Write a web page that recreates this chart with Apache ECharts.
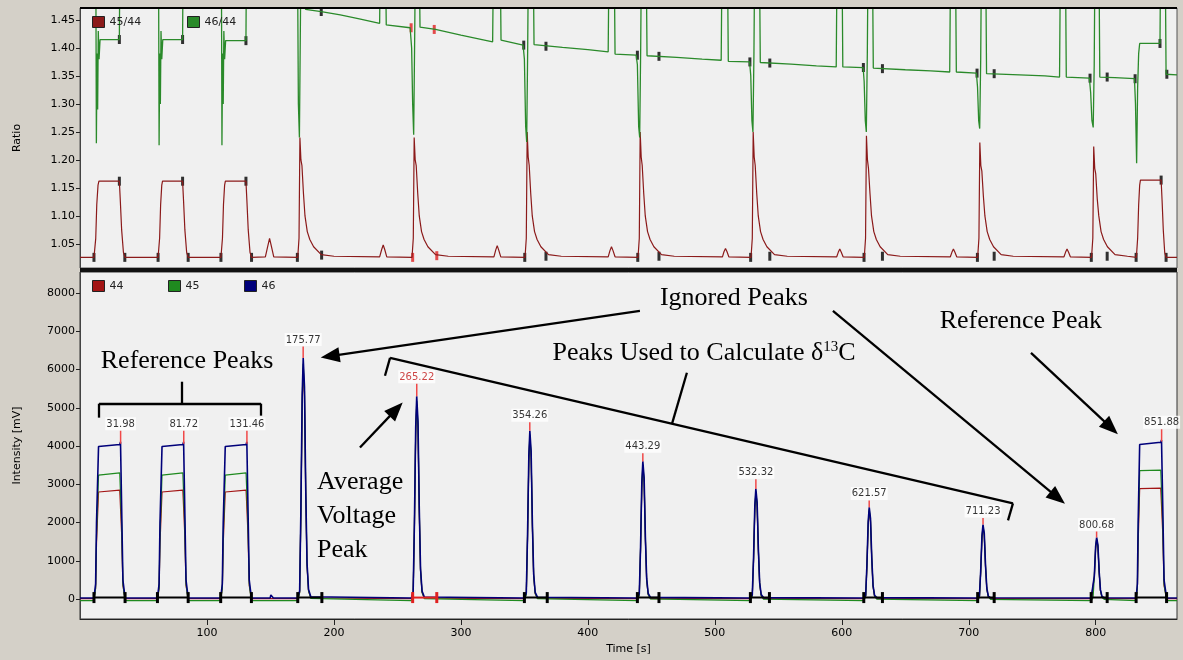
<!DOCTYPE html>
<html>
<head>
<meta charset="utf-8">
<script src="https://cdn.jsdelivr.net/npm/echarts@6/dist/echarts.min.js"></script>
<style>
html, body { margin: 0; padding: 0; background: #d4d0c8; }
#chart { width: 1183px; height: 660px; }
</style>
</head>
<body>
<div id="chart"></div>
<script>
// ---------- upper panel: isotope ratios, [time s, ratio] ----------
const ratio45 = [
  [0, 1.026], [11, 1.026], [12.4, 1.06], [13.2, 1.12], [14.2, 1.155], [14.9, 1.162], [31, 1.162], [31.8, 1.125], [32.8, 1.075], [34.2, 1.035], [35.4, 1.026],
  [61.5, 1.026], [62.7, 1.06], [63.5, 1.12], [64.4, 1.155], [65, 1.162], [80.8, 1.162], [81.6, 1.125], [82.6, 1.075], [84, 1.035], [85.2, 1.026],
  [111, 1.026], [112.2, 1.06], [113, 1.12], [113.9, 1.155], [114.5, 1.162], [130.7, 1.162], [131.5, 1.125], [132.5, 1.075], [133.9, 1.035], [135.1, 1.026],
  [146, 1.027], [147.8, 1.045], [149.3, 1.06], [150.8, 1.045], [152.6, 1.027],
  [171.5, 1.026], [172.5, 1.06], [173.2, 1.24], [174, 1.20], [174.8, 1.19], [176, 1.14], [177.2, 1.10], [179, 1.072], [181, 1.058], [184, 1.045], [190, 1.031], [200, 1.028],
  [236, 1.027], [237.6, 1.04], [238.8, 1.048], [240, 1.04], [241.6, 1.027],
  [261.5, 1.026], [262.5, 1.06], [263.2, 1.24], [264, 1.20], [264.8, 1.19], [266, 1.14], [267.2, 1.10], [269, 1.072], [271, 1.058], [274, 1.045], [280, 1.031], [290, 1.028],
  [326, 1.027], [327.4, 1.039], [328.6, 1.047], [329.8, 1.039], [331.4, 1.027],
  [350.5, 1.026], [351.5, 1.06], [352.2, 1.25], [353, 1.205], [353.8, 1.19], [355, 1.14], [356.2, 1.10], [358, 1.072], [360, 1.058], [363, 1.045], [369, 1.031], [379, 1.028],
  [416, 1.027], [417.4, 1.038], [418.6, 1.045], [419.8, 1.038], [421.4, 1.027],
  [439.5, 1.026], [440.5, 1.06], [441.2, 1.25], [442, 1.205], [442.8, 1.19], [444, 1.14], [445.2, 1.10], [447, 1.072], [449, 1.058], [452, 1.045], [458, 1.031], [468, 1.028],
  [506, 1.027], [507.2, 1.036], [508.4, 1.042], [509.6, 1.036], [511, 1.027],
  [528.5, 1.026], [529.5, 1.06], [530.2, 1.25], [531, 1.205], [531.8, 1.19], [533, 1.14], [534.2, 1.10], [536, 1.072], [538, 1.058], [541, 1.045], [547, 1.031], [557, 1.028],
  [596, 1.027], [597.2, 1.035], [598.4, 1.041], [599.6, 1.035], [601, 1.027],
  [617.7, 1.026], [618.7, 1.06], [619.4, 1.243], [620.2, 1.20], [621, 1.185], [622.2, 1.14], [623.4, 1.10], [625.2, 1.072], [627.2, 1.058], [630.2, 1.045], [636.2, 1.031], [646, 1.028],
  [685.5, 1.027], [686.7, 1.035], [687.9, 1.041], [689.1, 1.035], [690.5, 1.027],
  [707, 1.026], [708, 1.06], [708.7, 1.231], [709.5, 1.19], [710.3, 1.18], [711.5, 1.135], [712.7, 1.10], [714.5, 1.072], [716.5, 1.058], [719.5, 1.045], [725.5, 1.031], [735, 1.028],
  [775, 1.027], [776.2, 1.035], [777.4, 1.041], [778.6, 1.035], [780, 1.027],
  [796.7, 1.026], [797.7, 1.06], [798.4, 1.224], [799.2, 1.185], [800, 1.175], [801.2, 1.13], [802.4, 1.10], [804.2, 1.072], [806.2, 1.058], [809.2, 1.045], [815.2, 1.031], [825, 1.028],
  [832, 1.026], [833, 1.06], [833.8, 1.12], [834.6, 1.155], [835.2, 1.164], [851.5, 1.164], [852.3, 1.125], [853.2, 1.075], [854.3, 1.035], [855.4, 1.026], [864, 1.026]
];

// values above 1.47 run off the top of the panel (clipped)
const ratio46 = [
  [0, 1.6], [12.4, 1.6], [12.9, 1.23], [13.4, 1.39], [13.9, 1.29], [14.4, 1.43], [15, 1.38], [15.8, 1.415], [31, 1.415], [31.5, 1.6],
  [61.8, 1.6], [62.3, 1.226], [62.8, 1.39], [63.3, 1.30], [63.8, 1.43], [64.4, 1.38], [65.2, 1.415], [80.8, 1.415], [81.3, 1.6],
  [111.3, 1.6], [111.8, 1.226], [112.3, 1.39], [112.8, 1.30], [113.3, 1.43], [113.9, 1.38], [114.7, 1.413], [130.7, 1.413], [131.2, 1.6],
  [171.2, 1.6], [172, 1.30], [172.8, 1.24], [173.5, 1.42], [174.2, 1.6], [176.8, 1.6], [177.6, 1.469], [190, 1.465], [205, 1.459], [220, 1.452], [236, 1.444],
  [236.6, 1.6], [240.4, 1.6], [241.2, 1.441], [260, 1.436],
  [261.2, 1.40], [262, 1.30], [262.8, 1.245], [263.6, 1.42], [264.3, 1.6], [267, 1.6], [267.8, 1.437], [280, 1.433], [300, 1.423], [325, 1.411],
  [325.8, 1.6], [330.8, 1.6], [331.6, 1.414], [349, 1.405],
  [350, 1.38], [351, 1.26], [351.8, 1.232], [352.6, 1.40], [353.3, 1.6], [356.8, 1.6], [357.6, 1.406], [380, 1.401], [400, 1.397], [416, 1.393],
  [416.8, 1.6], [420.6, 1.6], [421.4, 1.389], [438, 1.387],
  [439, 1.37], [440, 1.26], [440.8, 1.24], [441.6, 1.40], [442.3, 1.6], [445.8, 1.6], [446.6, 1.386], [470, 1.383], [490, 1.38], [505, 1.378],
  [505.8, 1.6], [509.8, 1.6], [510.6, 1.376], [527.4, 1.375],
  [528.3, 1.35], [529.2, 1.27], [530, 1.25], [530.8, 1.39], [531.5, 1.6], [535, 1.6], [535.8, 1.374], [560, 1.371], [580, 1.368], [595.6, 1.366],
  [596.4, 1.6], [600, 1.6], [600.8, 1.366], [616.8, 1.365],
  [617.6, 1.34], [618.5, 1.27], [619.3, 1.25], [620.1, 1.39], [620.8, 1.6], [624, 1.6], [624.8, 1.364], [650, 1.361], [670, 1.359], [685, 1.357],
  [685.8, 1.6], [689.4, 1.6], [690.2, 1.357], [706, 1.355],
  [706.9, 1.33], [707.8, 1.27], [708.6, 1.256], [709.4, 1.38], [710.1, 1.6], [713.2, 1.6], [714, 1.354], [740, 1.352], [760, 1.35], [771.5, 1.348],
  [772.3, 1.6], [776, 1.6], [776.8, 1.348], [795, 1.346],
  [796, 1.32], [797, 1.27], [798, 1.258], [798.8, 1.37], [799.5, 1.6], [802.4, 1.6], [803.2, 1.348], [815, 1.347], [830.5, 1.345],
  [831.3, 1.30], [832.2, 1.194], [833, 1.33], [833.8, 1.39], [834.6, 1.408], [850.6, 1.408], [851.2, 1.6], [854.6, 1.6], [855.4, 1.353], [864, 1.352]
];

// peak start / end markers on the ratio traces
const marks45 = [[11, 1.026], [31, 1.162], [35.3, 1.026], [61.5, 1.026], [80.8, 1.162], [85.2, 1.026], [111, 1.026], [130.7, 1.162], [135.1, 1.026],
  [171.2, 1.026], [190.3, 1.030], [350.3, 1.026], [367, 1.028], [439.3, 1.026], [456, 1.028], [528.2, 1.026], [543.3, 1.028], [617.5, 1.026], [632, 1.028],
  [706.8, 1.026], [720, 1.028], [796.5, 1.026], [809, 1.028], [831.8, 1.026], [851.5, 1.164], [855.4, 1.026]];
const marks46 = [[31, 1.415], [80.8, 1.415], [130.7, 1.413], [190, 1.465], [349.5, 1.405], [367, 1.403], [439, 1.387], [456, 1.385],
  [527.6, 1.375], [543.3, 1.373], [617, 1.365], [632, 1.363], [706.5, 1.355], [720, 1.354], [795.5, 1.346], [809, 1.348],
  [831, 1.345], [850.6, 1.408], [856, 1.353]];
const avgMarks45 = [[262, 1.026], [281, 1.029]];
const avgMarks46 = [[260.8, 1.436], [279, 1.433]];

// ---------- lower panel: intensities [mV] on a shared time base ----------
const times = [0,
  11, 12.3, 13, 14.6, 15.3, 31.3, 31.9, 32.8, 33.8, 35.5,
  61, 62.3, 63, 64.6, 65.3, 81, 81.6, 82.5, 83.5, 85.2,
  110.8, 112.1, 112.8, 114.4, 115.1, 130.8, 131.4, 132.3, 133.3, 135,
  149.8, 150.3, 151.8, 152.3,
  171.5, 173, 174, 175, 175.8, 176.8, 177.8, 178.8, 180, 181.8,
  261, 262.4, 263.4, 264.4, 265.2, 266.2, 267.2, 268.2, 269.4, 271.2,
  350, 351.5, 352.5, 353.5, 354.3, 355.3, 356.3, 357.3, 358.5, 360.3,
  439, 440.5, 441.5, 442.5, 443.3, 444.3, 445.3, 446.3, 447.5, 449.3,
  528, 529.5, 530.5, 531.5, 532.3, 533.3, 534.3, 535.3, 536.5, 538.3,
  617.3, 618.8, 619.8, 620.8, 621.6, 622.6, 623.6, 624.6, 625.8, 627.6,
  707, 708.4, 709.4, 710.4, 711.2, 712.2, 713.2, 714.2, 715.4, 717.2,
  796.4, 797.9, 798.9, 799.9, 800.7, 801.7, 802.7, 803.7, 804.9, 806.7,
  831.8, 832.8, 833.4, 834.6, 835.2, 851.2, 851.8, 852.8, 853.8, 855.8,
  864];
const mass44 = [10,
  10, 280, 1450, 2800, 2810, 2850, 2880, 1700, 350, 10,
  10, 280, 1450, 2800, 2810, 2850, 2880, 1700, 350, 10,
  10, 280, 1450, 2800, 2810, 2850, 2880, 1700, 350, 10,
  10, 10, 10, 10,
  10, 180, 2250, 5100, 6050, 5300, 2700, 880, 210, 30,
  10, 160, 1880, 4300, 5100, 4450, 2280, 740, 170, 25,
  10, 130, 1600, 3580, 4230, 3700, 1880, 610, 140, 20,
  10, 110, 1290, 2920, 3460, 3040, 1540, 500, 115, 15,
  10, 90, 1020, 2340, 2770, 2420, 1240, 400, 90, 15,
  10, 80, 860, 1950, 2310, 2020, 1030, 330, 75, 12,
  10, 65, 700, 1590, 1880, 1650, 840, 265, 60, 12,
  10, 55, 575, 1310, 1550, 1360, 690, 220, 50, 10,
  10, 280, 1450, 2890, 2895, 2900, 2930, 1700, 350, 10,
  10];
const mass45 = [-40,
  -40, 300, 1650, 3240, 3245, 3300, 3330, 1950, 400, -40,
  -40, 300, 1650, 3240, 3245, 3300, 3330, 1950, 400, -40,
  -40, 300, 1650, 3240, 3245, 3300, 3330, 1950, 400, -40,
  -40, -40, -40, -40,
  -40, 170, 2300, 5200, 6150, 5420, 2780, 900, 220, 20,
  -40, 150, 1930, 4380, 5180, 4540, 2340, 760, 180, 15,
  -40, 120, 1640, 3650, 4300, 3780, 1930, 630, 150, 10,
  -40, 100, 1320, 2980, 3520, 3100, 1580, 510, 120, 5,
  -40, 80, 1050, 2390, 2820, 2470, 1270, 410, 95, 0,
  -40, 70, 880, 1990, 2350, 2060, 1050, 340, 80, 0,
  -40, 55, 715, 1620, 1910, 1680, 860, 270, 60, -5,
  -40, 45, 590, 1340, 1580, 1390, 700, 225, 50, -5,
  -40, 300, 1650, 3360, 3365, 3370, 3400, 1950, 400, -40,
  -40];
const mass46 = [30,
  30, 400, 2000, 3990, 3995, 4040, 4110, 2400, 500, 30,
  30, 400, 2000, 3990, 3995, 4040, 4110, 2400, 500, 30,
  30, 400, 2000, 3990, 3995, 4040, 4110, 2400, 500, 30,
  30, 110, 110, 30,
  30, 220, 2400, 5350, 6300, 5550, 2850, 950, 250, 60,
  30, 190, 2000, 4500, 5300, 4650, 2400, 800, 210, 55,
  30, 160, 1700, 3750, 4400, 3870, 1980, 660, 180, 50,
  30, 140, 1370, 3060, 3600, 3170, 1620, 540, 150, 45,
  30, 110, 1090, 2450, 2880, 2530, 1300, 430, 120, 40,
  30, 100, 910, 2040, 2400, 2110, 1080, 360, 100, 40,
  30, 85, 740, 1660, 1950, 1720, 880, 290, 80, 35,
  30, 75, 610, 1370, 1610, 1420, 720, 240, 70, 35,
  30, 400, 2000, 4040, 4050, 4100, 4160, 2400, 500, 30,
  30];

// integration baselines (peak start / end, s)
const peakStart = [11, 61, 110.8, 171.5, 350, 439, 528, 617.3, 707, 796.4, 831.8];
const peakEnd = [35.5, 85.2, 135, 190.5, 368, 456, 543, 632, 720, 809, 855.8];
const avgStart = 262, avgEnd = 281;

// peak apex labels
const peakLabels = ['31.98', '81.72', '131.46', '175.77', '265.22', '354.26', '443.29', '532.32', '621.57', '711.23', '800.68', '851.88'];
const peakTimes = [31.98, 81.72, 131.46, 175.77, 265.22, 354.26, 443.29, 532.32, 621.57, 711.23, 800.68, 851.88];
const peakApex = [4060, 4060, 4060, 6300, 5300, 4400, 3600, 2880, 2400, 1950, 1610, 4120];
const peakTop = [4400, 4400, 4400, 6600, 5630, 4620, 3810, 3135, 2580, 2120, 1765, 4440];
const avgPeak = '265.22';

// annotations, in [time, mV] of the lower panel
const notes = [
  { at: [84.3, 6229], text: 'Reference Peaks' },
  { at: [515, 7871], text: 'Ignored Peaks' },
  { at: [491.5, 6437], text: '{t|Peaks Used to Calculate δ}{s|13}{t|C}' },
  { at: [741, 7271], text: 'Reference Peak' }
];
const sideNote = { at: [186.7, 2171], text: 'Average\nVoltage\nPeak' };
const arrows = [
  [[441, 7532], [197, 6350]],
  [[593, 7532], [770, 2650]],
  [[749, 6437], [812, 4480]],
  [[220.5, 3961], [249, 4960]]
];
const strokes = [
  [[15, 4743], [15, 5108]], [[15, 5108], [142.6, 5108]], [[142.6, 5108], [142.6, 4795]], [[80, 5108], [80, 5682]],
  [[240.2, 5838], [244.2, 6307]], [[244.2, 6307], [734.8, 2502]], [[734.8, 2502], [730.9, 2059]], [[466.3, 4587], [478, 5916]]
];

const SERIF = "'Liberation Serif', 'Times New Roman', serif";
const SANS = "'DejaVu Sans', Tahoma, sans-serif";

const zip = (xs, ys) => xs.map((x, i) => [x, ys[i]]);
const segments = (a, b, y) => a.flatMap((s, i) => [[s, y], [b[i], y], '-']);

const chart = echarts.init(document.getElementById('chart'));

const axisTxt = { color: '#000', fontSize: 11, fontFamily: SANS };
const legendBase = { orient: 'horizontal', padding: 0, itemWidth: 12, itemHeight: 11, icon: 'rect',
  itemStyle: { borderColor: '#222', borderWidth: 1 }, textStyle: { fontSize: 11, color: '#222', fontFamily: SANS } };

chart.setOption({
  animation: false,
  backgroundColor: '#d4d0c8',
  grid: [
    { left: 80, top: 8, width: 1097, height: 260, show: true, backgroundColor: '#f0f0f0', borderColor: '#555', borderWidth: 1 },
    { left: 80, top: 272, width: 1097, height: 348, show: true, backgroundColor: '#f0f0f0', borderColor: '#333', borderWidth: 1 }
  ],
  legend: [
    Object.assign({ left: 92, top: 16, data: ['45/44'] }, legendBase),
    Object.assign({ left: 187, top: 16, data: ['46/44'] }, legendBase),
    Object.assign({ left: 92, top: 280, data: ['44'] }, legendBase),
    Object.assign({ left: 168, top: 280, data: ['45'] }, legendBase),
    Object.assign({ left: 244, top: 280, data: ['46'] }, legendBase)
  ],
  xAxis: [
    { gridIndex: 0, type: 'value', min: 0, max: 864, axisLine: { show: false }, axisTick: { show: false },
      axisLabel: { show: false }, splitLine: { show: false } },
    { gridIndex: 1, type: 'value', min: 0, max: 864, interval: 100,
      axisLine: { onZero: false, lineStyle: { color: '#222' } }, axisTick: { length: 6, lineStyle: { color: '#222' } },
      axisLabel: Object.assign({ margin: 9, showMinLabel: false, showMaxLabel: false }, axisTxt),
      splitLine: { show: false },
      name: 'Time [s]', nameLocation: 'middle', nameGap: 25, nameTextStyle: { fontSize: 11, color: '#000', fontFamily: SANS } }
  ],
  yAxis: [
    { gridIndex: 0, type: 'value', min: 1.007, max: 1.4713, splitNumber: 9,
      axisLine: { show: true, onZero: false, lineStyle: { color: '#444' } }, axisTick: { show: true, length: 4, lineStyle: { color: '#222' } },
      axisLabel: Object.assign({ margin: 5, showMinLabel: false, showMaxLabel: false, formatter: v => v.toFixed(2) }, axisTxt),
      splitLine: { show: false },
      name: 'Ratio', nameLocation: 'middle', nameGap: 57, nameTextStyle: { fontSize: 11, color: '#000', fontFamily: SANS } },
    { gridIndex: 1, type: 'value', min: -520, max: 8550, splitNumber: 9,
      axisLine: { show: true, onZero: false, lineStyle: { color: '#444' } }, axisTick: { show: true, length: 4, lineStyle: { color: '#222' } },
      axisLabel: Object.assign({ margin: 5, showMinLabel: false, showMaxLabel: false, formatter: v => String(v) }, axisTxt),
      splitLine: { show: false },
      name: 'Intensity [mV]', nameLocation: 'middle', nameGap: 57, nameTextStyle: { fontSize: 11, color: '#000', fontFamily: SANS } }
  ],
  series: [
    { name: '45/44', type: 'line', xAxisIndex: 0, yAxisIndex: 0, data: ratio45, showSymbol: false, color: '#8b1a1a',
      lineStyle: { width: 1.2 }, clip: true },
    { name: '46/44', type: 'line', xAxisIndex: 0, yAxisIndex: 0, data: ratio46, showSymbol: false, color: '#2a8a2a',
      lineStyle: { width: 1.3 }, clip: true },
    { name: 'marks', type: 'scatter', xAxisIndex: 0, yAxisIndex: 0, data: marks45.concat(marks46), symbol: 'rect',
      symbolSize: [3, 9], itemStyle: { color: '#000' }, silent: true },
    { name: 'avgMarks', type: 'scatter', xAxisIndex: 0, yAxisIndex: 0, data: avgMarks45.concat(avgMarks46), symbol: 'rect',
      symbolSize: [3, 9], itemStyle: { color: '#e02020' }, silent: true },

    { name: '44', type: 'line', xAxisIndex: 1, yAxisIndex: 1, data: zip(times, mass44), showSymbol: false, color: '#a31515',
      lineStyle: { width: 1.2 } },
    { name: '45', type: 'line', xAxisIndex: 1, yAxisIndex: 1, data: zip(times, mass45), showSymbol: false, color: '#1f8a1f',
      lineStyle: { width: 1.2 } },
    { name: '46', type: 'line', xAxisIndex: 1, yAxisIndex: 1, data: zip(times, mass46), showSymbol: false, color: '#00007a',
      lineStyle: { width: 1.6 } },
    { name: 'baseline', type: 'line', xAxisIndex: 1, yAxisIndex: 1, data: segments(peakStart, peakEnd, 40), color: '#000',
      lineStyle: { width: 2 }, symbol: 'rect', symbolSize: [3, 11], showSymbol: true, silent: true },
    { name: 'avgBaseline', type: 'line', xAxisIndex: 1, yAxisIndex: 1, data: segments([avgStart], [avgEnd], 40), color: '#e02020',
      lineStyle: { width: 2 }, symbol: 'rect', symbolSize: [3, 11], showSymbol: true, silent: true },
    { name: 'apexTicks', type: 'line', xAxisIndex: 1, yAxisIndex: 1, color: '#f04848', lineStyle: { width: 1.5 }, showSymbol: false, silent: true,
      data: peakTimes.flatMap((t, i) => [[t, peakApex[i]], [t, peakTop[i]], '-']) },
    { name: 'apexLabels', type: 'scatter', xAxisIndex: 1, yAxisIndex: 1, symbolSize: 1, itemStyle: { color: 'rgba(0,0,0,0)' }, silent: true,
      data: peakTimes.map((t, i) => ({ value: [t, peakTop[i]], name: peakLabels[i],
        label: peakLabels[i] === avgPeak ? { color: '#c01818' } : undefined })),
      label: { show: true, position: 'top', distance: 0, formatter: p => p.name, fontSize: 10, fontFamily: SANS, color: '#000',
        backgroundColor: '#fff', padding: [2, 1, 1, 1] } },
    { name: 'guides', type: 'scatter', xAxisIndex: 1, yAxisIndex: 1, data: [], silent: true, z: 20,
      markLine: {
        silent: true, animation: false, symbol: ['none', 'none'], label: { show: false },
        lineStyle: { color: '#000', width: 2.3, type: 'solid' },
        emphasis: { disabled: true },
        data: strokes.map(s => [{ coord: s[0] }, { coord: s[1] }]).concat(
          arrows.map(a => [{ coord: a[0], symbol: 'none' }, { coord: a[1], symbol: 'triangle', symbolSize: [15, 19] }]))
      } }
  ]
});

// text annotations placed through the lower panel's scales
const toPx = at => chart.convertToPixel({ xAxisIndex: 1, yAxisIndex: 1 }, at);
const font = size => size + "px 'Liberation Serif', 'Times New Roman', serif";
const texts = notes.map(n => {
  const p = toPx(n.at);
  return { type: 'text', x: p[0], y: p[1], z: 100, silent: true,
    style: { text: n.text, font: font(26), fill: '#000', align: 'center', verticalAlign: 'middle',
      rich: { t: { font: font(26), fill: '#000' }, s: { font: font(15), fill: '#000', verticalAlign: 'top', padding: [0, 0, 10, 0] } } } };
});
const sp = toPx(sideNote.at);
texts.push({ type: 'text', x: sp[0], y: sp[1], z: 100, silent: true,
  style: { text: sideNote.text, font: font(26), fill: '#000', align: 'left', verticalAlign: 'middle', lineHeight: 34 } });

chart.setOption({
  graphic: [
    { type: 'rect', shape: { x: 80, y: 7, width: 1097, height: 2 }, style: { fill: '#000' }, z: 100 },
    { type: 'rect', shape: { x: 80, y: 268, width: 1097, height: 4 }, style: { fill: '#111' }, z: 100 }
  ].concat(texts)
});
</script>
</body>
</html>
